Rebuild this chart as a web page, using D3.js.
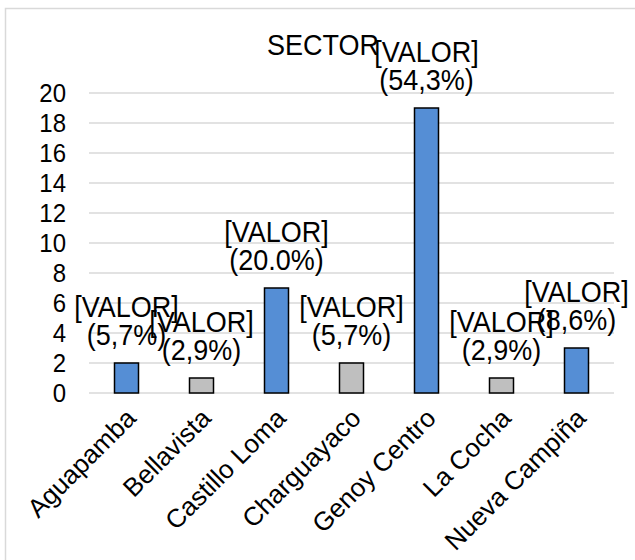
<!DOCTYPE html>
<html>
<head>
<meta charset="utf-8">
<script src="https://cdn.jsdelivr.net/npm/d3@7/dist/d3.min.js"></script>
<style>
  html, body { margin: 0; padding: 0; background: #fff; }
  svg { display: block; }
  text { font-family: "Liberation Sans", Arial, sans-serif; fill: #000; }
</style>
</head>
<body>
<svg id="chart" width="635" height="560"></svg>
<script>
const categories = ["Aguapamba", "Bellavista", "Castillo Loma", "Charguayaco", "Genoy Centro", "La Cocha", "Nueva Campiña"];
const values = [2, 1, 7, 2, 19, 1, 3];
const percentLabels = ["(5,7%)", "(2,9%)", "(20.0%)", "(5,7%)", "(54,3%)", "(2,9%)", "(8,6%)"];
const barColors = ["#558ED5", "#BFBFBF", "#558ED5", "#BFBFBF", "#558ED5", "#BFBFBF", "#558ED5"];
const yTicks = [0, 2, 4, 6, 8, 10, 12, 14, 16, 18, 20];
const titleText = "SECTOR";
const valueText = "[VALOR]";

const STRETCH = 1.1;
const svg = d3.select("#chart");

// chart border
svg.append("rect")
  .attr("x", 5.5).attr("y", 8.5)
  .attr("width", 700).attr("height", 700)
  .attr("fill", "none").attr("stroke", "#D9D9D9").attr("stroke-width", 1.5);

const x = d3.scaleBand().domain(categories).range([89, 614]).paddingInner(0.68).paddingOuter(0.34);
const y = d3.scaleLinear().domain([0, 20]).range([393, 93]);

// gridlines
svg.append("g").selectAll("line").data(yTicks).join("line")
  .attr("x1", 89).attr("x2", 614)
  .attr("y1", d => y(d)).attr("y2", d => y(d))
  .attr("stroke", "#D9D9D9").attr("stroke-width", 1.5);

// y axis labels
const yAxis = d3.axisLeft(y).tickValues(yTicks).tickSize(0).tickPadding(0);
const yg = svg.append("g").attr("transform", "translate(66,0)").call(yAxis);
yg.select(".domain").remove();
yg.selectAll("text").attr("font-size", 24).attr("fill", "#000")
  .attr("font-family", "Liberation Sans, Arial, sans-serif")
  .attr("dy", "0.33em").attr("transform", `scale(1,${STRETCH})`);

// bars
svg.append("g").selectAll("rect").data(values).join("rect")
  .attr("x", (d, i) => x(categories[i]))
  .attr("y", d => y(d))
  .attr("width", x.bandwidth())
  .attr("height", d => y(0) - y(d))
  .attr("fill", (d, i) => barColors[i])
  .attr("stroke", "#000").attr("stroke-width", 1.5);

// data labels
const lbl = svg.append("g").selectAll("g").data(values).join("g")
  .attr("transform", (d, i) => `translate(${x(categories[i]) + x.bandwidth() / 2},${y(d) - 18})`);
lbl.append("text").attr("text-anchor", "middle").attr("font-size", 27)
  .attr("transform", `translate(0,-28) scale(1,${STRETCH})`).text(valueText);
lbl.append("text").attr("text-anchor", "middle").attr("font-size", 27)
  .attr("transform", `scale(1,${STRETCH})`)
  .text((d, i) => percentLabels[i]);

// x axis labels
svg.append("g").selectAll("text").data(categories).join("text")
  .attr("transform", d => `translate(${x(d) + x.bandwidth() / 2 - 2},${407}) rotate(-45)`)
  .attr("text-anchor", "end").attr("dy", "0.7em")
  .attr("font-size", 26)
  .text(d => d);

// title
svg.append("text").attr("text-anchor", "middle")
  .attr("font-size", 27)
  .attr("transform", `translate(323,55) scale(1,${STRETCH})`)
  .text(titleText);
</script>
</body>
</html>
